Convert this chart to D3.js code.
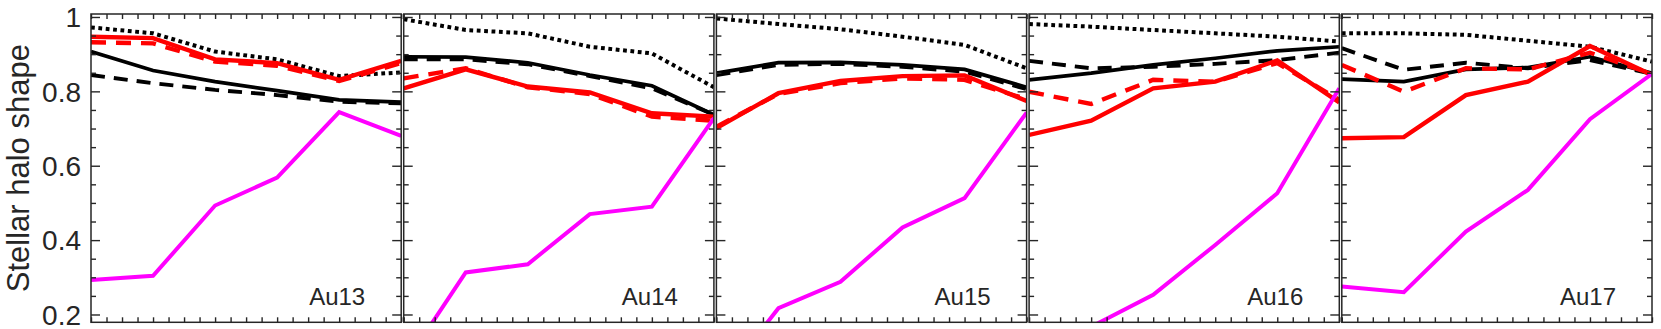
<!DOCTYPE html>
<html>
<head>
<meta charset="utf-8">
<script src="https://cdn.jsdelivr.net/npm/d3@7"></script>
<style>
  body { margin: 0; background: #fff; }
  text { font-family: "Liberation Sans", Arial, Helvetica, sans-serif; fill: #262626; }
</style>
</head>
<body>
<script>
// halo names, one panel each
const panelNames = ['Au13', 'Au14', 'Au15', 'Au16', 'Au17']
const xSteps = [0, 1, 2, 3, 4, 5]

// values per panel (rows)
const blackDotted = [
	[0.972, 0.956, 0.907, 0.886, 0.841, 0.851],
	[0.994, 0.965, 0.956, 0.920, 0.902, 0.811],
	[0.996, 0.981, 0.967, 0.947, 0.925, 0.862],
	[0.981, 0.974, 0.965, 0.956, 0.947, 0.934],
	[0.956, 0.956, 0.952, 0.936, 0.920, 0.880],
]
const blackSolid = [
	[0.907, 0.856, 0.826, 0.802, 0.777, 0.771],
	[0.893, 0.892, 0.877, 0.844, 0.815, 0.737],
	[0.849, 0.877, 0.878, 0.871, 0.859, 0.811],
	[0.831, 0.849, 0.871, 0.889, 0.909, 0.920],
	[0.833, 0.826, 0.859, 0.864, 0.893, 0.849],
]
const blackDashed = [
	[0.844, 0.822, 0.804, 0.790, 0.772, 0.768],
	[0.886, 0.886, 0.873, 0.841, 0.808, 0.737],
	[0.844, 0.871, 0.874, 0.866, 0.853, 0.806],
	[0.882, 0.862, 0.866, 0.874, 0.884, 0.904],
	[0.916, 0.858, 0.877, 0.862, 0.884, 0.847],
]
const redSolid = [
	[0.947, 0.943, 0.886, 0.876, 0.831, 0.882],
	[0.808, 0.859, 0.813, 0.797, 0.741, 0.732],
	[0.701, 0.795, 0.828, 0.841, 0.843, 0.774],
	[0.683, 0.721, 0.808, 0.826, 0.883, 0.770],
	[0.674, 0.677, 0.790, 0.826, 0.922, 0.844],
]
const redDashed = [
	[0.932, 0.929, 0.880, 0.869, 0.828, 0.876],
	[0.835, 0.862, 0.811, 0.793, 0.732, 0.721],
	[0.705, 0.793, 0.822, 0.835, 0.831, 0.779],
	[0.799, 0.766, 0.831, 0.826, 0.876, 0.777],
	[0.871, 0.799, 0.862, 0.859, 0.904, 0.847],
]
const magenta = [
	[0.293, 0.304, 0.493, 0.568, 0.744, 0.680],
	[0.063, 0.313, 0.335, 0.470, 0.490, 0.728],
	[0.003, 0.217, 0.288, 0.434, 0.513, 0.743],
	[0.050, 0.167, 0.253, 0.387, 0.526, 0.808],
	[0.275, 0.260, 0.423, 0.535, 0.725, 0.847],
]
const yMajorTicks = [0.2, 0.4, 0.6, 0.8, 1]
const yTickLabels = ['0.2', '0.4', '0.6', '0.8', '1']

const AXIS = '#262626'

const series = [
	{ data: blackDotted, color: '#000', width: 4, dash: '3.8,3.6' },
	{ data: blackSolid, color: '#000', width: 3.7, dash: null },
	{ data: blackDashed, color: '#000', width: 3.9, dash: '14,9' },
	{ data: redSolid, color: '#ff0000', width: 4.4, dash: null },
	{ data: redDashed, color: '#ff0000', width: 4.4, dash: '15,10' },
	{ data: magenta, color: '#ff00ff', width: 4, dash: null },
]

let width = 1661
let height = 329

// panel frame layout
let frameLeft = 91
let frameTop = 14
let gap = 2.5
let panelW = (1652 - frameLeft - 4 * gap) / 5
let panelH = 308.3

let svg = d3.select('body').append('svg')
	.attr('width', width)
	.attr('height', height)

let x = d3.scaleLinear().domain([0, 5]).range([0, panelW])
let y = d3.scaleLinear().domain([0.179, 1.008]).range([panelH, 0])

let yMinor = d3.range(0.2, 1.0001, 0.05).map(v => +v.toFixed(2)).filter(v => yMajorTicks.indexOf(v) < 0)
let xMinor = d3.range(0, 5.0001, 0.25)

let line = d3.line()
	.x((d, i) => x(xSteps[i]))
	.y(d => y(d))

panelNames.forEach((name, p) => {
	let g = svg.append('g')
		.attr('transform', `translate(${frameLeft + p * (panelW + gap)},${frameTop})`)

	g.append('clipPath')
		.attr('id', 'clip' + p)
		.append('rect')
		.attr('width', panelW)
		.attr('height', panelH)

	let plot = g.append('g').attr('clip-path', `url(#clip${p})`)

	series.forEach(s => {
		plot.append('path')
			.attr('d', line(s.data[p]))
			.attr('fill', 'none')
			.attr('stroke', s.color)
			.attr('stroke-width', s.width)
			.attr('stroke-dasharray', s.dash)
	})

	// ticks, all pointing inward
	let addAxis = (axis, tx, ty) => {
		let a = g.append('g')
			.attr('transform', `translate(${tx},${ty})`)
			.call(axis)
		a.select('.domain').remove()
		a.selectAll('line').attr('stroke', AXIS).attr('stroke-width', 1.4)
		return a
	}

	addAxis(d3.axisLeft(y).tickValues(yMinor).tickSize(-5).tickFormat(''), 0, 0)
	addAxis(d3.axisRight(y).tickValues(yMinor).tickSize(-5).tickFormat(''), panelW, 0)
	addAxis(d3.axisRight(y).tickValues(yMajorTicks).tickSize(-9).tickFormat(''), panelW, 0)
	let yl = addAxis(d3.axisLeft(y).tickValues(yMajorTicks).tickSize(-9).tickPadding(10)
		.tickFormat((d, i) => p === 0 ? yTickLabels[i] : ''), 0, 0)
	yl.selectAll('text')
		.style('font-size', '28px')
		.attr('fill', AXIS)
		.attr('dy', '0.35em')

	addAxis(d3.axisBottom(x).tickValues(xMinor).tickSize(-5).tickFormat(''), 0, panelH)
	addAxis(d3.axisTop(x).tickValues(xMinor).tickSize(-5).tickFormat(''), 0, 0)

	g.append('rect')
		.attr('width', panelW)
		.attr('height', panelH)
		.attr('fill', 'none')
		.attr('stroke', AXIS)
		.attr('stroke-width', 1.5)

	g.append('text')
		.attr('x', panelW - 36)
		.attr('y', 305 - frameTop)
		.attr('text-anchor', 'end')
		.style('font-size', '24px')
		.attr('fill', '#000')
		.text(name)
})

svg.append('text')
	.attr('transform', `translate(29,${frameTop + panelH / 2}) rotate(-90)`)
	.attr('text-anchor', 'middle')
	.style('font-size', '31px')
	.text('Stellar halo shape')
</script>
</body>
</html>
